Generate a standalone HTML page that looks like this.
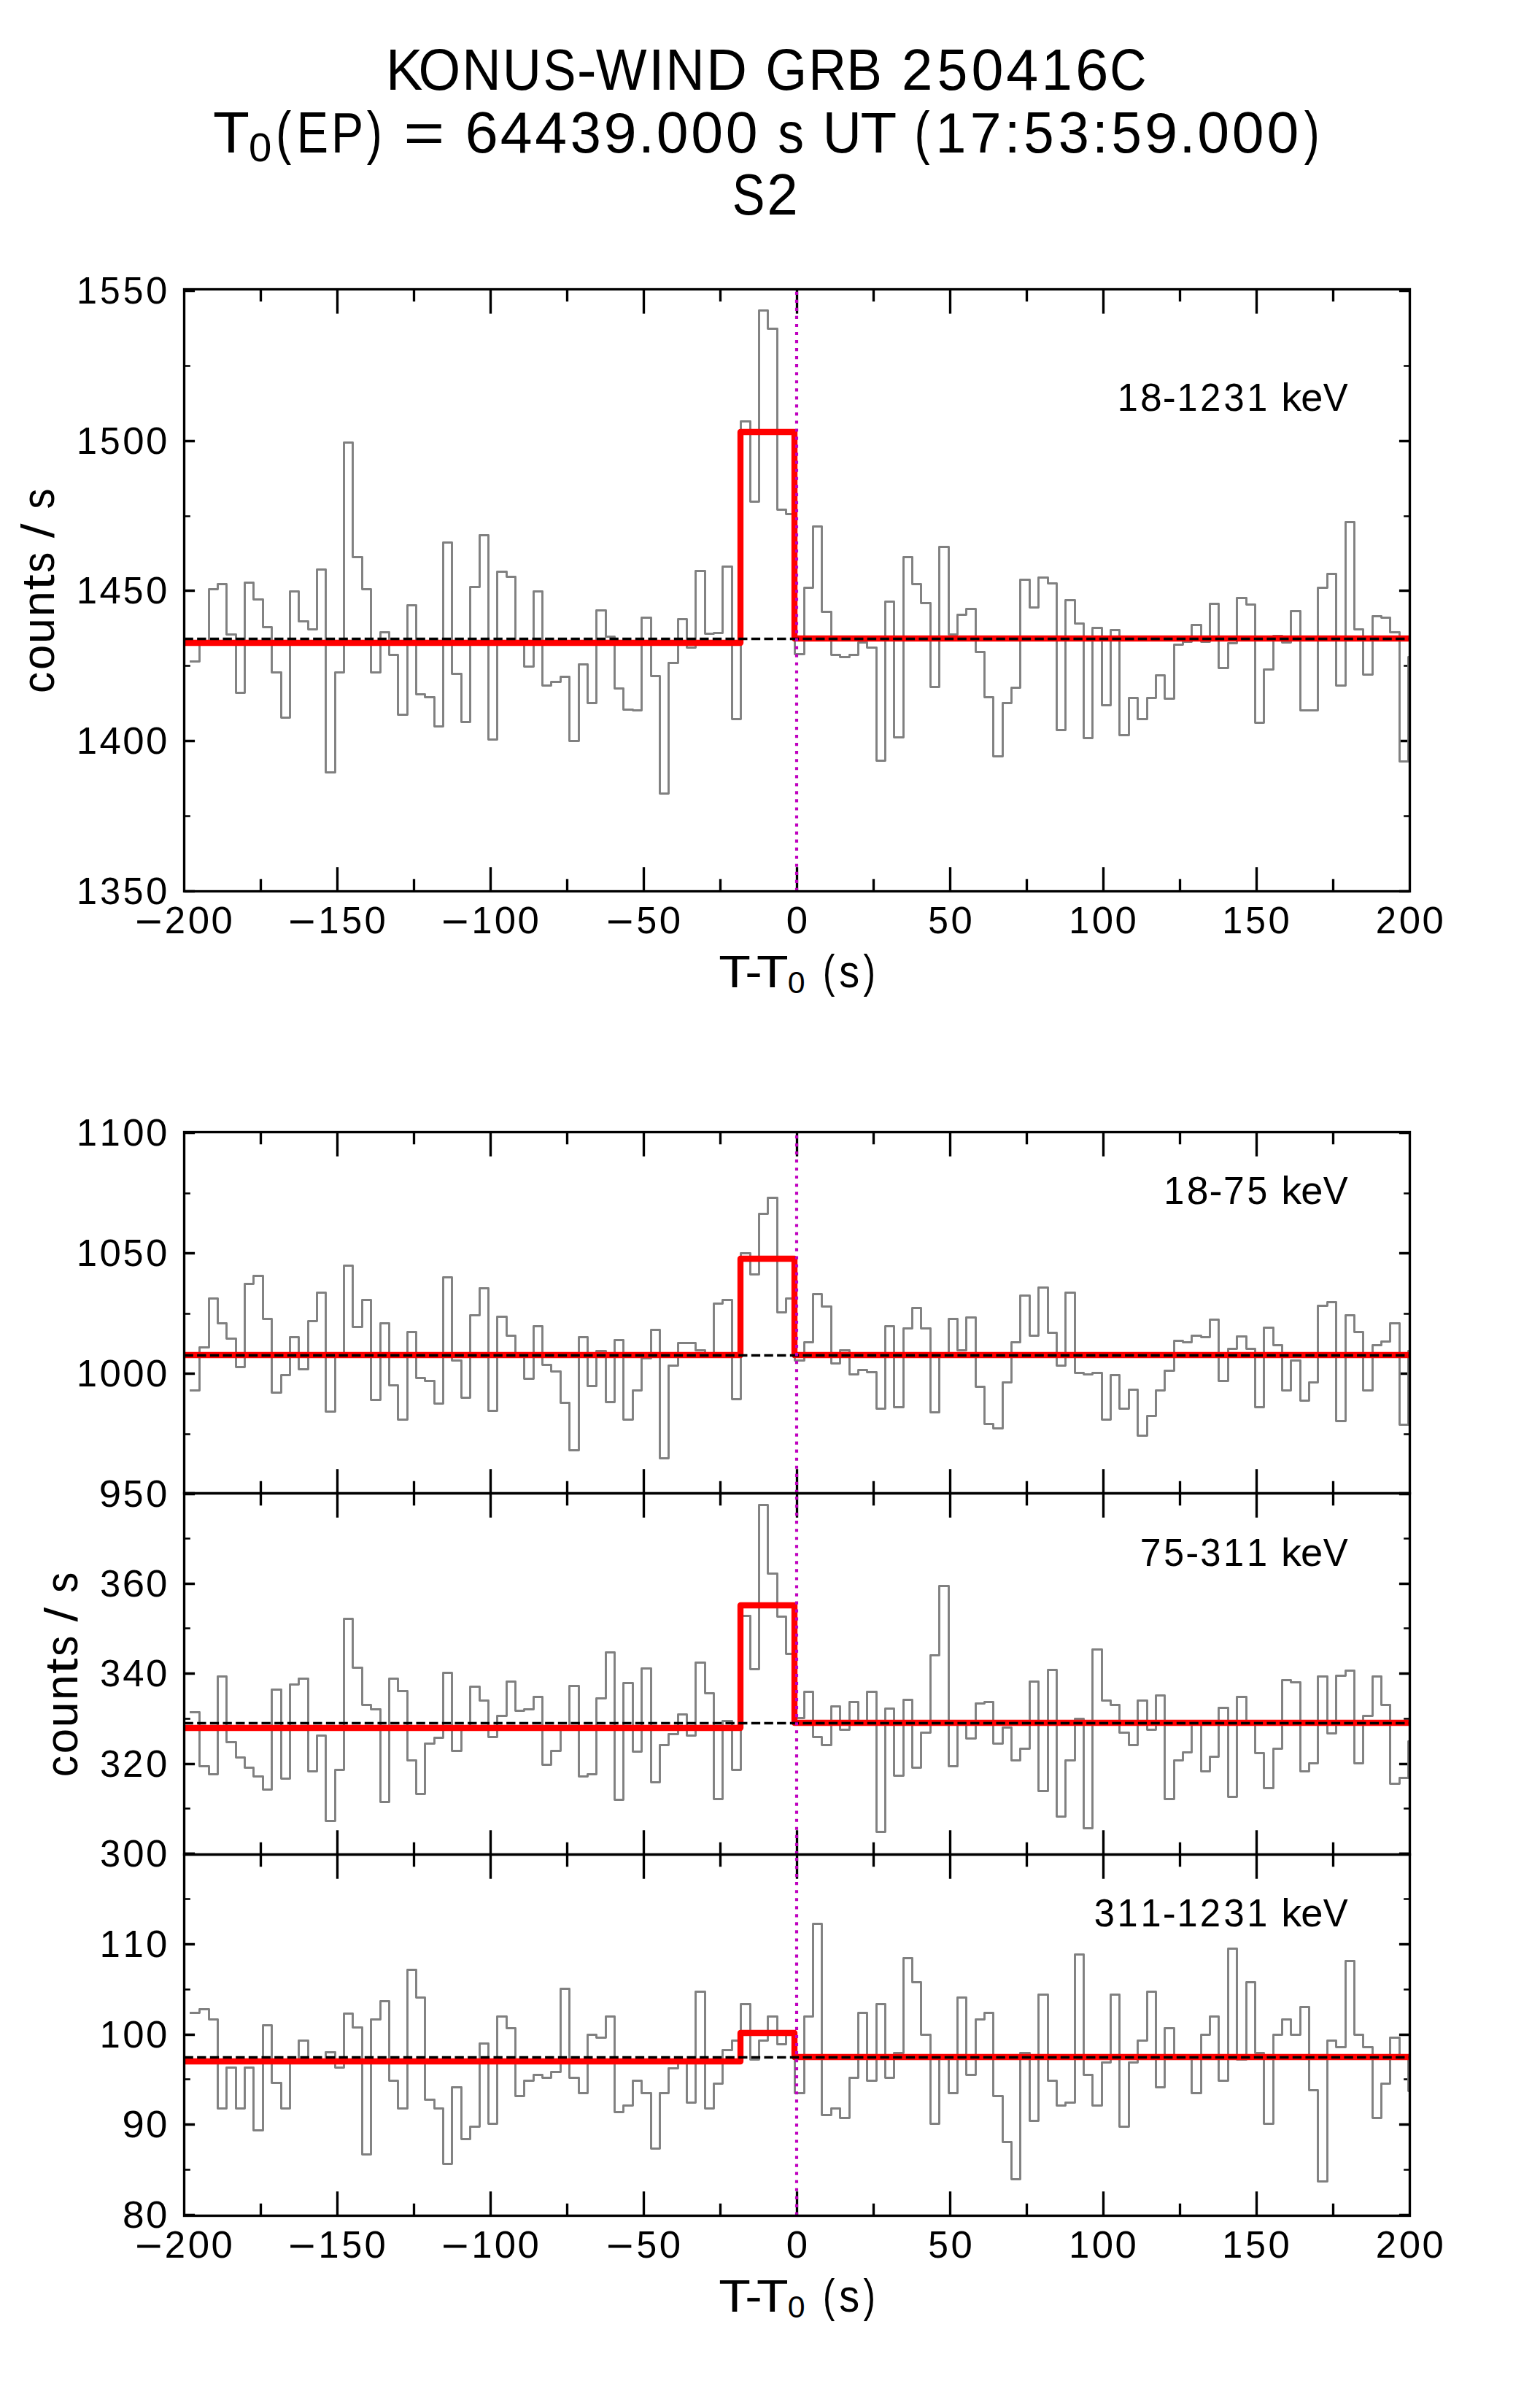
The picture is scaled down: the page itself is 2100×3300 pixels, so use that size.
<!DOCTYPE html><html><head><meta charset="utf-8"><style>html,body{margin:0;padding:0;background:#fff;}svg{display:block} text{font-family:"Liberation Sans",sans-serif;fill:#000}</style></head><body>
<svg xmlns="http://www.w3.org/2000/svg" width="2100" height="3300" viewBox="0 0 2100 3300">
<rect width="2100" height="3300" fill="#fff"/>
<text font-size="79.72" transform="translate(528.89,122.75) scale(0.9491,1)">K</text>
<text font-size="79.72" transform="translate(573.54,122.75) scale(0.9304,1)">O</text>
<text font-size="79.72" transform="translate(633.18,122.75) scale(0.9296,1)">N</text>
<text font-size="79.72" transform="translate(688.85,122.75) scale(0.9249,1)">U</text>
<text font-size="79.72" transform="translate(744.84,122.75) scale(0.8390,1)">S</text>
<text font-size="79.72" transform="translate(790.63,122.75) scale(1.0145,1)">-</text>
<text font-size="79.72" transform="translate(816.76,122.75) scale(0.9279,1)">W</text>
<text font-size="79.72" transform="translate(888.82,122.75) scale(0.9953,1)">I</text>
<text font-size="79.72" transform="translate(912.19,122.75) scale(0.9296,1)">N</text>
<text font-size="79.72" transform="translate(968.03,122.75) scale(0.9737,1)">D</text>
<text font-size="79.72" transform="translate(1049.19,122.75) scale(0.9179,1)">G</text>
<text font-size="79.72" transform="translate(1108.28,122.75) scale(0.9001,1)">R</text>
<text font-size="79.72" transform="translate(1160.32,122.75) scale(0.9144,1)">B</text>
<text font-size="79.72" transform="translate(1235.92,122.75) scale(0.9563,1)">2</text>
<text font-size="79.72" transform="translate(1284.79,122.75) scale(0.9363,1)">5</text>
<text font-size="79.72" transform="translate(1331.59,122.75) scale(0.9921,1)">0</text>
<text font-size="79.72" transform="translate(1379.32,122.75) scale(0.9922,1)">4</text>
<text font-size="79.72" transform="translate(1427.69,122.75) scale(0.9475,1)">1</text>
<text font-size="79.72" transform="translate(1474.02,122.75) scale(1.0268,1)">6</text>
<text font-size="79.72" transform="translate(1521.35,122.75) scale(0.8736,1)">C</text>
<text font-size="78.78" transform="translate(291.96,209.30) scale(1.0372,1)">T</text>
<text font-size="56.40" transform="translate(340.90,221.30) scale(0.9978,1)">0</text>
<text font-size="78.78" transform="translate(378.18,209.30) scale(0.8018,1)">(</text>
<text font-size="78.78" transform="translate(406.85,209.30) scale(0.8220,1)">E</text>
<text font-size="78.78" transform="translate(453.95,209.30) scale(0.8389,1)">P</text>
<text font-size="78.78" transform="translate(502.71,209.30) scale(0.8018,1)">)</text>
<text font-size="78.78" transform="translate(553.22,209.30) scale(1.2221,1)">=</text>
<text font-size="78.78" transform="translate(637.44,209.30) scale(1.0348,1)">6</text>
<text font-size="78.78" transform="translate(685.75,209.30) scale(1.0000,1)">4</text>
<text font-size="78.78" transform="translate(733.29,209.30) scale(1.0000,1)">4</text>
<text font-size="78.78" transform="translate(781.80,209.30) scale(0.9602,1)">3</text>
<text font-size="78.78" transform="translate(827.42,209.30) scale(1.0327,1)">9</text>
<text font-size="78.78" transform="translate(874.67,209.30) scale(1.0263,1)">.</text>
<text font-size="78.78" transform="translate(899.67,209.30) scale(0.9998,1)">0</text>
<text font-size="78.78" transform="translate(947.21,209.30) scale(0.9998,1)">0</text>
<text font-size="78.78" transform="translate(994.75,209.30) scale(0.9998,1)">0</text>
<text font-size="78.78" transform="translate(1066.25,209.30) scale(0.9092,1)">s</text>
<text font-size="78.78" transform="translate(1127.70,209.30) scale(0.9322,1)">U</text>
<text font-size="78.78" transform="translate(1179.51,209.30) scale(1.0345,1)">T</text>
<text font-size="78.78" transform="translate(1253.46,209.30) scale(0.8018,1)">(</text>
<text font-size="78.78" transform="translate(1282.59,209.30) scale(0.9549,1)">1</text>
<text font-size="78.78" transform="translate(1329.83,209.30) scale(0.9780,1)">7</text>
<text font-size="78.78" transform="translate(1376.56,209.30) scale(1.0263,1)">:</text>
<text font-size="78.78" transform="translate(1403.15,209.30) scale(0.9436,1)">5</text>
<text font-size="78.78" transform="translate(1450.71,209.30) scale(0.9602,1)">3</text>
<text font-size="78.78" transform="translate(1496.82,209.30) scale(1.0263,1)">:</text>
<text font-size="78.78" transform="translate(1523.41,209.30) scale(0.9436,1)">5</text>
<text font-size="78.78" transform="translate(1569.05,209.30) scale(1.0327,1)">9</text>
<text font-size="78.78" transform="translate(1616.31,209.30) scale(1.0263,1)">.</text>
<text font-size="78.78" transform="translate(1641.30,209.30) scale(0.9998,1)">0</text>
<text font-size="78.78" transform="translate(1688.84,209.30) scale(0.9998,1)">0</text>
<text font-size="78.78" transform="translate(1736.38,209.30) scale(0.9998,1)">0</text>
<text font-size="78.78" transform="translate(1787.68,209.30) scale(0.8018,1)">)</text>
<text font-size="79.72" transform="translate(1003.81,293.90) scale(0.8404,1)">S</text>
<text font-size="79.72" transform="translate(1051.27,293.90) scale(0.9579,1)">2</text>
<clipPath id="c0"><rect x="252" y="396.0" width="1680" height="825.0"/></clipPath>
<clipPath id="c1"><rect x="252" y="1551.0" width="1680" height="495.0"/></clipPath>
<clipPath id="c2"><rect x="252" y="2046.0" width="1680" height="495.0"/></clipPath>
<clipPath id="c3"><rect x="252" y="2541.0" width="1680" height="495.0"/></clipPath>
<path d="M357.5,1221.5v-16.67M357.5,396.5v16.67M462.5,1221.5v-33.33M462.5,396.5v33.33M567.5,1221.5v-16.67M567.5,396.5v16.67M672.5,1221.5v-33.33M672.5,396.5v33.33M777.5,1221.5v-16.67M777.5,396.5v16.67M882.5,1221.5v-33.33M882.5,396.5v33.33M987.5,1221.5v-16.67M987.5,396.5v16.67M1092.5,1221.5v-33.33M1092.5,396.5v33.33M1197.5,1221.5v-16.67M1197.5,396.5v16.67M1302.5,1221.5v-33.33M1302.5,396.5v33.33M1407.5,1221.5v-16.67M1407.5,396.5v16.67M1512.5,1221.5v-33.33M1512.5,396.5v33.33M1617.5,1221.5v-16.67M1617.5,396.5v16.67M1722.5,1221.5v-33.33M1722.5,396.5v33.33M1827.5,1221.5v-16.67M1827.5,396.5v16.67" stroke="#000" stroke-width="3.333" fill="none"/>
<path d="M252.5,1221.5h14.58M1932.5,1221.5h-14.58M252.5,1015.5h14.58M1932.5,1015.5h-14.58M252.5,809.5h14.58M1932.5,809.5h-14.58M252.5,604.5h14.58M1932.5,604.5h-14.58M252.5,398.5h14.58M1932.5,398.5h-14.58" stroke="#000" stroke-width="3.333" fill="none"/>
<path d="M252.5,1118.5h8.33M1932.5,1118.5h-8.33M252.5,912.5h8.33M1932.5,912.5h-8.33M252.5,707.5h8.33M1932.5,707.5h-8.33M252.5,501.5h8.33M1932.5,501.5h-8.33" stroke="#000" stroke-width="2.5" fill="none"/>
<g clip-path="url(#c0)"><path d="M261.5,906.5 L273.5,906.5 L273.5,881.5 L286.5,881.5 L286.5,807.5 L298.5,807.5 L298.5,800.5 L310.5,800.5 L310.5,869.5 L323.5,869.5 L323.5,949.5 L335.5,949.5 L335.5,798.5 L347.5,798.5 L347.5,821.5 L360.5,821.5 L360.5,859.5 L372.5,859.5 L372.5,921.5 L385.5,921.5 L385.5,983.5 L397.5,983.5 L397.5,810.5 L409.5,810.5 L409.5,851.5 L422.5,851.5 L422.5,862.5 L434.5,862.5 L434.5,780.5 L446.5,780.5 L446.5,1058.5 L459.5,1058.5 L459.5,921.5 L471.5,921.5 L471.5,606.5 L483.5,606.5 L483.5,763.5 L496.5,763.5 L496.5,807.5 L508.5,807.5 L508.5,921.5 L521.5,921.5 L521.5,866.5 L533.5,866.5 L533.5,897.5 L545.5,897.5 L545.5,979.5 L558.5,979.5 L558.5,829.5 L570.5,829.5 L570.5,951.5 L582.5,951.5 L582.5,955.5 L595.5,955.5 L595.5,995.5 L607.5,995.5 L607.5,743.5 L619.5,743.5 L619.5,923.5 L632.5,923.5 L632.5,989.5 L644.5,989.5 L644.5,804.5 L657.5,804.5 L657.5,733.5 L669.5,733.5 L669.5,1013.5 L681.5,1013.5 L681.5,783.5 L694.5,783.5 L694.5,790.5 L706.5,790.5 L706.5,881.5 L718.5,881.5 L718.5,913.5 L731.5,913.5 L731.5,810.5 L743.5,810.5 L743.5,939.5 L755.5,939.5 L755.5,934.5 L768.5,934.5 L768.5,927.5 L780.5,927.5 L780.5,1015.5 L793.5,1015.5 L793.5,910.5 L805.5,910.5 L805.5,963.5 L817.5,963.5 L817.5,836.5 L830.5,836.5 L830.5,872.5 L842.5,872.5 L842.5,943.5 L854.5,943.5 L854.5,972.5 L867.5,972.5 L867.5,973.5 L879.5,973.5 L879.5,846.5 L892.5,846.5 L892.5,926.5 L904.5,926.5 L904.5,1087.5 L916.5,1087.5 L916.5,908.5 L929.5,908.5 L929.5,848.5 L941.5,848.5 L941.5,887.5 L953.5,887.5 L953.5,782.5 L966.5,782.5 L966.5,868.5 L978.5,868.5 L978.5,867.5 L990.5,867.5 L990.5,776.5 L1003.5,776.5 L1003.5,985.5 L1015.5,985.5 L1015.5,577.5 L1028.5,577.5 L1028.5,687.5 L1040.5,687.5 L1040.5,425.5 L1052.5,425.5 L1052.5,450.5 L1065.5,450.5 L1065.5,698.5 L1077.5,698.5 L1077.5,704.5 L1089.5,704.5 L1089.5,896.5 L1102.5,896.5 L1102.5,805.5 L1114.5,805.5 L1114.5,721.5 L1126.5,721.5 L1126.5,838.5 L1139.5,838.5 L1139.5,897.5 L1151.5,897.5 L1151.5,900.5 L1164.5,900.5 L1164.5,897.5 L1176.5,897.5 L1176.5,880.5 L1188.5,880.5 L1188.5,887.5 L1201.5,887.5 L1201.5,1042.5 L1213.5,1042.5 L1213.5,824.5 L1225.5,824.5 L1225.5,1010.5 L1238.5,1010.5 L1238.5,763.5 L1250.5,763.5 L1250.5,800.5 L1262.5,800.5 L1262.5,826.5 L1275.5,826.5 L1275.5,941.5 L1287.5,941.5 L1287.5,749.5 L1300.5,749.5 L1300.5,869.5 L1312.5,869.5 L1312.5,842.5 L1324.5,842.5 L1324.5,834.5 L1337.5,834.5 L1337.5,893.5 L1349.5,893.5 L1349.5,955.5 L1361.5,955.5 L1361.5,1036.5 L1374.5,1036.5 L1374.5,963.5 L1386.5,963.5 L1386.5,942.5 L1398.5,942.5 L1398.5,794.5 L1411.5,794.5 L1411.5,832.5 L1423.5,832.5 L1423.5,791.5 L1436.5,791.5 L1436.5,799.5 L1448.5,799.5 L1448.5,1000.5 L1460.5,1000.5 L1460.5,822.5 L1473.5,822.5 L1473.5,854.5 L1485.5,854.5 L1485.5,1011.5 L1497.5,1011.5 L1497.5,860.5 L1510.5,860.5 L1510.5,966.5 L1522.5,966.5 L1522.5,863.5 L1534.5,863.5 L1534.5,1007.5 L1547.5,1007.5 L1547.5,956.5 L1559.5,956.5 L1559.5,985.5 L1572.5,985.5 L1572.5,956.5 L1584.5,956.5 L1584.5,925.5 L1596.5,925.5 L1596.5,957.5 L1609.5,957.5 L1609.5,883.5 L1621.5,883.5 L1621.5,879.5 L1633.5,879.5 L1633.5,856.5 L1646.5,856.5 L1646.5,879.5 L1658.5,879.5 L1658.5,827.5 L1670.5,827.5 L1670.5,915.5 L1683.5,915.5 L1683.5,881.5 L1695.5,881.5 L1695.5,819.5 L1708.5,819.5 L1708.5,828.5 L1720.5,828.5 L1720.5,990.5 L1732.5,990.5 L1732.5,917.5 L1745.5,917.5 L1745.5,871.5 L1757.5,871.5 L1757.5,880.5 L1769.5,880.5 L1769.5,837.5 L1782.5,837.5 L1782.5,973.5 L1794.5,973.5 L1794.5,973.5 L1806.5,973.5 L1806.5,805.5 L1819.5,805.5 L1819.5,786.5 L1831.5,786.5 L1831.5,939.5 L1844.5,939.5 L1844.5,715.5 L1856.5,715.5 L1856.5,862.5 L1868.5,862.5 L1868.5,924.5 L1881.5,924.5 L1881.5,844.5 L1893.5,844.5 L1893.5,846.5 L1905.5,846.5 L1905.5,866.5 L1918.5,866.5 L1918.5,1043.5 L1930.5,1043.5 L1930.5,900.5 L1943.5,900.5" fill="none" stroke="#808080" stroke-width="2.917" stroke-linejoin="round" stroke-linecap="square"/><path d="M210,881 L1015,881 L1015,592 L1089,592 L1089,875 L1974,875" fill="none" stroke="#ff0000" stroke-width="8.333" stroke-linejoin="round" stroke-linecap="square"/><path d="M252.5,875.5 H1932.5" stroke="#000" stroke-width="3.333" stroke-dasharray="12.333,5.333" fill="none"/><path d="M1092,1221V396" stroke="#bf00bf" stroke-width="4.167" stroke-dasharray="4.167,6.875" fill="none"/></g>
<rect x="252.5" y="396.5" width="1680" height="825.0" fill="none" stroke="#000" stroke-width="3.333"/>
<path d="M357.5,2046.5v-16.67M357.5,1551.5v16.67M462.5,2046.5v-33.33M462.5,1551.5v33.33M567.5,2046.5v-16.67M567.5,1551.5v16.67M672.5,2046.5v-33.33M672.5,1551.5v33.33M777.5,2046.5v-16.67M777.5,1551.5v16.67M882.5,2046.5v-33.33M882.5,1551.5v33.33M987.5,2046.5v-16.67M987.5,1551.5v16.67M1092.5,2046.5v-33.33M1092.5,1551.5v33.33M1197.5,2046.5v-16.67M1197.5,1551.5v16.67M1302.5,2046.5v-33.33M1302.5,1551.5v33.33M1407.5,2046.5v-16.67M1407.5,1551.5v16.67M1512.5,2046.5v-33.33M1512.5,1551.5v33.33M1617.5,2046.5v-16.67M1617.5,1551.5v16.67M1722.5,2046.5v-33.33M1722.5,1551.5v33.33M1827.5,2046.5v-16.67M1827.5,1551.5v16.67" stroke="#000" stroke-width="3.333" fill="none"/>
<path d="M252.5,2047.5h14.58M1932.5,2047.5h-14.58M252.5,1882.5h14.58M1932.5,1882.5h-14.58M252.5,1717.5h14.58M1932.5,1717.5h-14.58M252.5,1552.5h14.58M1932.5,1552.5h-14.58" stroke="#000" stroke-width="3.333" fill="none"/>
<path d="M252.5,1965.5h8.33M1932.5,1965.5h-8.33M252.5,1800.5h8.33M1932.5,1800.5h-8.33M252.5,1635.5h8.33M1932.5,1635.5h-8.33" stroke="#000" stroke-width="2.5" fill="none"/>
<g clip-path="url(#c1)"><path d="M261.5,1905.5 L273.5,1905.5 L273.5,1846.5 L286.5,1846.5 L286.5,1779.5 L298.5,1779.5 L298.5,1813.5 L310.5,1813.5 L310.5,1834.5 L323.5,1834.5 L323.5,1873.5 L335.5,1873.5 L335.5,1759.5 L347.5,1759.5 L347.5,1748.5 L360.5,1748.5 L360.5,1807.5 L372.5,1807.5 L372.5,1908.5 L385.5,1908.5 L385.5,1884.5 L397.5,1884.5 L397.5,1832.5 L409.5,1832.5 L409.5,1876.5 L422.5,1876.5 L422.5,1810.5 L434.5,1810.5 L434.5,1771.5 L446.5,1771.5 L446.5,1934.5 L459.5,1934.5 L459.5,1856.5 L471.5,1856.5 L471.5,1734.5 L483.5,1734.5 L483.5,1818.5 L496.5,1818.5 L496.5,1781.5 L508.5,1781.5 L508.5,1918.5 L521.5,1918.5 L521.5,1813.5 L533.5,1813.5 L533.5,1898.5 L545.5,1898.5 L545.5,1945.5 L558.5,1945.5 L558.5,1825.5 L570.5,1825.5 L570.5,1888.5 L582.5,1888.5 L582.5,1892.5 L595.5,1892.5 L595.5,1923.5 L607.5,1923.5 L607.5,1750.5 L619.5,1750.5 L619.5,1864.5 L632.5,1864.5 L632.5,1915.5 L644.5,1915.5 L644.5,1802.5 L657.5,1802.5 L657.5,1765.5 L669.5,1765.5 L669.5,1933.5 L681.5,1933.5 L681.5,1804.5 L694.5,1804.5 L694.5,1830.5 L706.5,1830.5 L706.5,1856.5 L718.5,1856.5 L718.5,1889.5 L731.5,1889.5 L731.5,1817.5 L743.5,1817.5 L743.5,1870.5 L755.5,1870.5 L755.5,1879.5 L768.5,1879.5 L768.5,1922.5 L780.5,1922.5 L780.5,1987.5 L793.5,1987.5 L793.5,1832.5 L805.5,1832.5 L805.5,1899.5 L817.5,1899.5 L817.5,1851.5 L830.5,1851.5 L830.5,1921.5 L842.5,1921.5 L842.5,1836.5 L854.5,1836.5 L854.5,1945.5 L867.5,1945.5 L867.5,1905.5 L879.5,1905.5 L879.5,1861.5 L892.5,1861.5 L892.5,1822.5 L904.5,1822.5 L904.5,1998.5 L916.5,1998.5 L916.5,1871.5 L929.5,1871.5 L929.5,1840.5 L941.5,1840.5 L941.5,1840.5 L953.5,1840.5 L953.5,1850.5 L966.5,1850.5 L966.5,1856.5 L978.5,1856.5 L978.5,1786.5 L990.5,1786.5 L990.5,1781.5 L1003.5,1781.5 L1003.5,1917.5 L1015.5,1917.5 L1015.5,1717.5 L1028.5,1717.5 L1028.5,1746.5 L1040.5,1746.5 L1040.5,1663.5 L1052.5,1663.5 L1052.5,1641.5 L1065.5,1641.5 L1065.5,1798.5 L1077.5,1798.5 L1077.5,1779.5 L1089.5,1779.5 L1089.5,1864.5 L1102.5,1864.5 L1102.5,1839.5 L1114.5,1839.5 L1114.5,1773.5 L1126.5,1773.5 L1126.5,1790.5 L1139.5,1790.5 L1139.5,1868.5 L1151.5,1868.5 L1151.5,1850.5 L1164.5,1850.5 L1164.5,1883.5 L1176.5,1883.5 L1176.5,1877.5 L1188.5,1877.5 L1188.5,1880.5 L1201.5,1880.5 L1201.5,1930.5 L1213.5,1930.5 L1213.5,1817.5 L1225.5,1817.5 L1225.5,1928.5 L1238.5,1928.5 L1238.5,1820.5 L1250.5,1820.5 L1250.5,1792.5 L1262.5,1792.5 L1262.5,1820.5 L1275.5,1820.5 L1275.5,1935.5 L1287.5,1935.5 L1287.5,1856.5 L1300.5,1856.5 L1300.5,1807.5 L1312.5,1807.5 L1312.5,1850.5 L1324.5,1850.5 L1324.5,1805.5 L1337.5,1805.5 L1337.5,1900.5 L1349.5,1900.5 L1349.5,1951.5 L1361.5,1951.5 L1361.5,1957.5 L1374.5,1957.5 L1374.5,1894.5 L1386.5,1894.5 L1386.5,1839.5 L1398.5,1839.5 L1398.5,1775.5 L1411.5,1775.5 L1411.5,1830.5 L1423.5,1830.5 L1423.5,1764.5 L1436.5,1764.5 L1436.5,1826.5 L1448.5,1826.5 L1448.5,1871.5 L1460.5,1871.5 L1460.5,1771.5 L1473.5,1771.5 L1473.5,1881.5 L1485.5,1881.5 L1485.5,1883.5 L1497.5,1883.5 L1497.5,1881.5 L1510.5,1881.5 L1510.5,1945.5 L1522.5,1945.5 L1522.5,1884.5 L1534.5,1884.5 L1534.5,1930.5 L1547.5,1930.5 L1547.5,1904.5 L1559.5,1904.5 L1559.5,1967.5 L1572.5,1967.5 L1572.5,1940.5 L1584.5,1940.5 L1584.5,1905.5 L1596.5,1905.5 L1596.5,1878.5 L1609.5,1878.5 L1609.5,1837.5 L1621.5,1837.5 L1621.5,1839.5 L1633.5,1839.5 L1633.5,1830.5 L1646.5,1830.5 L1646.5,1832.5 L1658.5,1832.5 L1658.5,1808.5 L1670.5,1808.5 L1670.5,1892.5 L1683.5,1892.5 L1683.5,1848.5 L1695.5,1848.5 L1695.5,1831.5 L1708.5,1831.5 L1708.5,1848.5 L1720.5,1848.5 L1720.5,1928.5 L1732.5,1928.5 L1732.5,1819.5 L1745.5,1819.5 L1745.5,1843.5 L1757.5,1843.5 L1757.5,1905.5 L1769.5,1905.5 L1769.5,1864.5 L1782.5,1864.5 L1782.5,1919.5 L1794.5,1919.5 L1794.5,1894.5 L1806.5,1894.5 L1806.5,1789.5 L1819.5,1789.5 L1819.5,1784.5 L1831.5,1784.5 L1831.5,1947.5 L1844.5,1947.5 L1844.5,1802.5 L1856.5,1802.5 L1856.5,1825.5 L1868.5,1825.5 L1868.5,1905.5 L1881.5,1905.5 L1881.5,1843.5 L1893.5,1843.5 L1893.5,1838.5 L1905.5,1838.5 L1905.5,1813.5 L1918.5,1813.5 L1918.5,1952.5 L1930.5,1952.5 L1930.5,1851.5 L1943.5,1851.5" fill="none" stroke="#808080" stroke-width="2.917" stroke-linejoin="round" stroke-linecap="square"/><path d="M210,1857 L1015,1857 L1015,1725 L1089,1725 L1089,1857 L1974,1857" fill="none" stroke="#ff0000" stroke-width="8.333" stroke-linejoin="round" stroke-linecap="square"/><path d="M252.5,1857.5 H1932.5" stroke="#000" stroke-width="3.333" stroke-dasharray="12.333,5.333" fill="none"/><path d="M1092,2046V1551" stroke="#bf00bf" stroke-width="4.167" stroke-dasharray="4.167,6.875" fill="none"/></g>
<rect x="252.5" y="1551.5" width="1680" height="495.0" fill="none" stroke="#000" stroke-width="3.333"/>
<path d="M357.5,2541.5v-16.67M357.5,2046.5v16.67M462.5,2541.5v-33.33M462.5,2046.5v33.33M567.5,2541.5v-16.67M567.5,2046.5v16.67M672.5,2541.5v-33.33M672.5,2046.5v33.33M777.5,2541.5v-16.67M777.5,2046.5v16.67M882.5,2541.5v-33.33M882.5,2046.5v33.33M987.5,2541.5v-16.67M987.5,2046.5v16.67M1092.5,2541.5v-33.33M1092.5,2046.5v33.33M1197.5,2541.5v-16.67M1197.5,2046.5v16.67M1302.5,2541.5v-33.33M1302.5,2046.5v33.33M1407.5,2541.5v-16.67M1407.5,2046.5v16.67M1512.5,2541.5v-33.33M1512.5,2046.5v33.33M1617.5,2541.5v-16.67M1617.5,2046.5v16.67M1722.5,2541.5v-33.33M1722.5,2046.5v33.33M1827.5,2541.5v-16.67M1827.5,2046.5v16.67" stroke="#000" stroke-width="3.333" fill="none"/>
<path d="M252.5,2540.5h14.58M1932.5,2540.5h-14.58M252.5,2417.5h14.58M1932.5,2417.5h-14.58M252.5,2293.5h14.58M1932.5,2293.5h-14.58M252.5,2170.5h14.58M1932.5,2170.5h-14.58M252.5,2046.5h14.58M1932.5,2046.5h-14.58" stroke="#000" stroke-width="3.333" fill="none"/>
<path d="M252.5,2478.5h8.33M1932.5,2478.5h-8.33M252.5,2355.5h8.33M1932.5,2355.5h-8.33M252.5,2231.5h8.33M1932.5,2231.5h-8.33M252.5,2108.5h8.33M1932.5,2108.5h-8.33" stroke="#000" stroke-width="2.5" fill="none"/>
<g clip-path="url(#c2)"><path d="M261.5,2346.5 L273.5,2346.5 L273.5,2420.5 L286.5,2420.5 L286.5,2431.5 L298.5,2431.5 L298.5,2297.5 L310.5,2297.5 L310.5,2387.5 L323.5,2387.5 L323.5,2408.5 L335.5,2408.5 L335.5,2422.5 L347.5,2422.5 L347.5,2434.5 L360.5,2434.5 L360.5,2452.5 L372.5,2452.5 L372.5,2315.5 L385.5,2315.5 L385.5,2437.5 L397.5,2437.5 L397.5,2308.5 L409.5,2308.5 L409.5,2300.5 L422.5,2300.5 L422.5,2427.5 L434.5,2427.5 L434.5,2378.5 L446.5,2378.5 L446.5,2495.5 L459.5,2495.5 L459.5,2425.5 L471.5,2425.5 L471.5,2218.5 L483.5,2218.5 L483.5,2285.5 L496.5,2285.5 L496.5,2336.5 L508.5,2336.5 L508.5,2342.5 L521.5,2342.5 L521.5,2469.5 L533.5,2469.5 L533.5,2300.5 L545.5,2300.5 L545.5,2317.5 L558.5,2317.5 L558.5,2412.5 L570.5,2412.5 L570.5,2458.5 L582.5,2458.5 L582.5,2389.5 L595.5,2389.5 L595.5,2381.5 L607.5,2381.5 L607.5,2292.5 L619.5,2292.5 L619.5,2399.5 L632.5,2399.5 L632.5,2367.5 L644.5,2367.5 L644.5,2311.5 L657.5,2311.5 L657.5,2330.5 L669.5,2330.5 L669.5,2380.5 L681.5,2380.5 L681.5,2351.5 L694.5,2351.5 L694.5,2304.5 L706.5,2304.5 L706.5,2344.5 L718.5,2344.5 L718.5,2342.5 L731.5,2342.5 L731.5,2325.5 L743.5,2325.5 L743.5,2418.5 L755.5,2418.5 L755.5,2399.5 L768.5,2399.5 L768.5,2367.5 L780.5,2367.5 L780.5,2310.5 L793.5,2310.5 L793.5,2434.5 L805.5,2434.5 L805.5,2431.5 L817.5,2431.5 L817.5,2327.5 L830.5,2327.5 L830.5,2264.5 L842.5,2264.5 L842.5,2466.5 L854.5,2466.5 L854.5,2306.5 L867.5,2306.5 L867.5,2400.5 L879.5,2400.5 L879.5,2286.5 L892.5,2286.5 L892.5,2442.5 L904.5,2442.5 L904.5,2391.5 L916.5,2391.5 L916.5,2376.5 L929.5,2376.5 L929.5,2349.5 L941.5,2349.5 L941.5,2378.5 L953.5,2378.5 L953.5,2278.5 L966.5,2278.5 L966.5,2320.5 L978.5,2320.5 L978.5,2465.5 L990.5,2465.5 L990.5,2358.5 L1003.5,2358.5 L1003.5,2425.5 L1015.5,2425.5 L1015.5,2214.5 L1028.5,2214.5 L1028.5,2287.5 L1040.5,2287.5 L1040.5,2062.5 L1052.5,2062.5 L1052.5,2156.5 L1065.5,2156.5 L1065.5,2215.5 L1077.5,2215.5 L1077.5,2266.5 L1089.5,2266.5 L1089.5,2354.5 L1102.5,2354.5 L1102.5,2318.5 L1114.5,2318.5 L1114.5,2380.5 L1126.5,2380.5 L1126.5,2391.5 L1139.5,2391.5 L1139.5,2338.5 L1151.5,2338.5 L1151.5,2370.5 L1164.5,2370.5 L1164.5,2332.5 L1176.5,2332.5 L1176.5,2360.5 L1188.5,2360.5 L1188.5,2318.5 L1201.5,2318.5 L1201.5,2510.5 L1213.5,2510.5 L1213.5,2341.5 L1225.5,2341.5 L1225.5,2433.5 L1238.5,2433.5 L1238.5,2329.5 L1250.5,2329.5 L1250.5,2422.5 L1262.5,2422.5 L1262.5,2374.5 L1275.5,2374.5 L1275.5,2268.5 L1287.5,2268.5 L1287.5,2173.5 L1300.5,2173.5 L1300.5,2420.5 L1312.5,2420.5 L1312.5,2361.5 L1324.5,2361.5 L1324.5,2382.5 L1337.5,2382.5 L1337.5,2334.5 L1349.5,2334.5 L1349.5,2332.5 L1361.5,2332.5 L1361.5,2389.5 L1374.5,2389.5 L1374.5,2367.5 L1386.5,2367.5 L1386.5,2412.5 L1398.5,2412.5 L1398.5,2396.5 L1411.5,2396.5 L1411.5,2304.5 L1423.5,2304.5 L1423.5,2454.5 L1436.5,2454.5 L1436.5,2288.5 L1448.5,2288.5 L1448.5,2489.5 L1460.5,2489.5 L1460.5,2412.5 L1473.5,2412.5 L1473.5,2355.5 L1485.5,2355.5 L1485.5,2505.5 L1497.5,2505.5 L1497.5,2260.5 L1510.5,2260.5 L1510.5,2330.5 L1522.5,2330.5 L1522.5,2336.5 L1534.5,2336.5 L1534.5,2374.5 L1547.5,2374.5 L1547.5,2391.5 L1559.5,2391.5 L1559.5,2330.5 L1572.5,2330.5 L1572.5,2370.5 L1584.5,2370.5 L1584.5,2323.5 L1596.5,2323.5 L1596.5,2465.5 L1609.5,2465.5 L1609.5,2412.5 L1621.5,2412.5 L1621.5,2401.5 L1633.5,2401.5 L1633.5,2361.5 L1646.5,2361.5 L1646.5,2427.5 L1658.5,2427.5 L1658.5,2407.5 L1670.5,2407.5 L1670.5,2340.5 L1683.5,2340.5 L1683.5,2462.5 L1695.5,2462.5 L1695.5,2325.5 L1708.5,2325.5 L1708.5,2361.5 L1720.5,2361.5 L1720.5,2402.5 L1732.5,2402.5 L1732.5,2450.5 L1745.5,2450.5 L1745.5,2396.5 L1757.5,2396.5 L1757.5,2302.5 L1769.5,2302.5 L1769.5,2305.5 L1782.5,2305.5 L1782.5,2427.5 L1794.5,2427.5 L1794.5,2416.5 L1806.5,2416.5 L1806.5,2297.5 L1819.5,2297.5 L1819.5,2375.5 L1831.5,2375.5 L1831.5,2296.5 L1844.5,2296.5 L1844.5,2289.5 L1856.5,2289.5 L1856.5,2416.5 L1868.5,2416.5 L1868.5,2351.5 L1881.5,2351.5 L1881.5,2297.5 L1893.5,2297.5 L1893.5,2336.5 L1905.5,2336.5 L1905.5,2444.5 L1918.5,2444.5 L1918.5,2436.5 L1930.5,2436.5 L1930.5,2386.5 L1943.5,2386.5" fill="none" stroke="#808080" stroke-width="2.917" stroke-linejoin="round" stroke-linecap="square"/><path d="M210,2368 L1015,2368 L1015,2200 L1089,2200 L1089,2361 L1974,2361" fill="none" stroke="#ff0000" stroke-width="8.333" stroke-linejoin="round" stroke-linecap="square"/><path d="M252.5,2361.5 H1932.5" stroke="#000" stroke-width="3.333" stroke-dasharray="12.333,5.333" fill="none"/><path d="M1092,2541V2046" stroke="#bf00bf" stroke-width="4.167" stroke-dasharray="4.167,6.875" fill="none"/></g>
<rect x="252.5" y="2046.5" width="1680" height="495.0" fill="none" stroke="#000" stroke-width="3.333"/>
<path d="M357.5,3036.5v-16.67M357.5,2541.5v16.67M462.5,3036.5v-33.33M462.5,2541.5v33.33M567.5,3036.5v-16.67M567.5,2541.5v16.67M672.5,3036.5v-33.33M672.5,2541.5v33.33M777.5,3036.5v-16.67M777.5,2541.5v16.67M882.5,3036.5v-33.33M882.5,2541.5v33.33M987.5,3036.5v-16.67M987.5,2541.5v16.67M1092.5,3036.5v-33.33M1092.5,2541.5v33.33M1197.5,3036.5v-16.67M1197.5,2541.5v16.67M1302.5,3036.5v-33.33M1302.5,2541.5v33.33M1407.5,3036.5v-16.67M1407.5,2541.5v16.67M1512.5,3036.5v-33.33M1512.5,2541.5v33.33M1617.5,3036.5v-16.67M1617.5,2541.5v16.67M1722.5,3036.5v-33.33M1722.5,2541.5v33.33M1827.5,3036.5v-16.67M1827.5,2541.5v16.67" stroke="#000" stroke-width="3.333" fill="none"/>
<path d="M252.5,3035.5h14.58M1932.5,3035.5h-14.58M252.5,2911.5h14.58M1932.5,2911.5h-14.58M252.5,2788.5h14.58M1932.5,2788.5h-14.58M252.5,2664.5h14.58M1932.5,2664.5h-14.58M252.5,2540.5h14.58M1932.5,2540.5h-14.58" stroke="#000" stroke-width="3.333" fill="none"/>
<path d="M252.5,2973.5h8.33M1932.5,2973.5h-8.33M252.5,2849.5h8.33M1932.5,2849.5h-8.33M252.5,2726.5h8.33M1932.5,2726.5h-8.33M252.5,2602.5h8.33M1932.5,2602.5h-8.33" stroke="#000" stroke-width="2.5" fill="none"/>
<g clip-path="url(#c3)"><path d="M261.5,2758.5 L273.5,2758.5 L273.5,2753.5 L286.5,2753.5 L286.5,2767.5 L298.5,2767.5 L298.5,2889.5 L310.5,2889.5 L310.5,2833.5 L323.5,2833.5 L323.5,2889.5 L335.5,2889.5 L335.5,2833.5 L347.5,2833.5 L347.5,2919.5 L360.5,2919.5 L360.5,2775.5 L372.5,2775.5 L372.5,2854.5 L385.5,2854.5 L385.5,2889.5 L397.5,2889.5 L397.5,2825.5 L409.5,2825.5 L409.5,2796.5 L422.5,2796.5 L422.5,2825.5 L434.5,2825.5 L434.5,2825.5 L446.5,2825.5 L446.5,2812.5 L459.5,2812.5 L459.5,2833.5 L471.5,2833.5 L471.5,2759.5 L483.5,2759.5 L483.5,2778.5 L496.5,2778.5 L496.5,2952.5 L508.5,2952.5 L508.5,2767.5 L521.5,2767.5 L521.5,2742.5 L533.5,2742.5 L533.5,2851.5 L545.5,2851.5 L545.5,2889.5 L558.5,2889.5 L558.5,2699.5 L570.5,2699.5 L570.5,2737.5 L582.5,2737.5 L582.5,2877.5 L595.5,2877.5 L595.5,2889.5 L607.5,2889.5 L607.5,2965.5 L619.5,2965.5 L619.5,2860.5 L632.5,2860.5 L632.5,2931.5 L644.5,2931.5 L644.5,2914.5 L657.5,2914.5 L657.5,2800.5 L669.5,2800.5 L669.5,2910.5 L681.5,2910.5 L681.5,2763.5 L694.5,2763.5 L694.5,2779.5 L706.5,2779.5 L706.5,2872.5 L718.5,2872.5 L718.5,2851.5 L731.5,2851.5 L731.5,2843.5 L743.5,2843.5 L743.5,2847.5 L755.5,2847.5 L755.5,2839.5 L768.5,2839.5 L768.5,2725.5 L780.5,2725.5 L780.5,2847.5 L793.5,2847.5 L793.5,2868.5 L805.5,2868.5 L805.5,2788.5 L817.5,2788.5 L817.5,2792.5 L830.5,2792.5 L830.5,2763.5 L842.5,2763.5 L842.5,2894.5 L854.5,2894.5 L854.5,2885.5 L867.5,2885.5 L867.5,2851.5 L879.5,2851.5 L879.5,2868.5 L892.5,2868.5 L892.5,2944.5 L904.5,2944.5 L904.5,2868.5 L916.5,2868.5 L916.5,2834.5 L929.5,2834.5 L929.5,2825.5 L941.5,2825.5 L941.5,2881.5 L953.5,2881.5 L953.5,2729.5 L966.5,2729.5 L966.5,2889.5 L978.5,2889.5 L978.5,2855.5 L990.5,2855.5 L990.5,2809.5 L1003.5,2809.5 L1003.5,2796.5 L1015.5,2796.5 L1015.5,2746.5 L1028.5,2746.5 L1028.5,2822.5 L1040.5,2822.5 L1040.5,2796.5 L1052.5,2796.5 L1052.5,2763.5 L1065.5,2763.5 L1065.5,2801.5 L1077.5,2801.5 L1077.5,2786.5 L1089.5,2786.5 L1089.5,2868.5 L1102.5,2868.5 L1102.5,2763.5 L1114.5,2763.5 L1114.5,2636.5 L1126.5,2636.5 L1126.5,2898.5 L1139.5,2898.5 L1139.5,2889.5 L1151.5,2889.5 L1151.5,2902.5 L1164.5,2902.5 L1164.5,2847.5 L1176.5,2847.5 L1176.5,2758.5 L1188.5,2758.5 L1188.5,2851.5 L1201.5,2851.5 L1201.5,2746.5 L1213.5,2746.5 L1213.5,2847.5 L1225.5,2847.5 L1225.5,2813.5 L1238.5,2813.5 L1238.5,2683.5 L1250.5,2683.5 L1250.5,2716.5 L1262.5,2716.5 L1262.5,2788.5 L1275.5,2788.5 L1275.5,2910.5 L1287.5,2910.5 L1287.5,2819.5 L1300.5,2819.5 L1300.5,2868.5 L1312.5,2868.5 L1312.5,2737.5 L1324.5,2737.5 L1324.5,2843.5 L1337.5,2843.5 L1337.5,2767.5 L1349.5,2767.5 L1349.5,2758.5 L1361.5,2758.5 L1361.5,2872.5 L1374.5,2872.5 L1374.5,2935.5 L1386.5,2935.5 L1386.5,2986.5 L1398.5,2986.5 L1398.5,2813.5 L1411.5,2813.5 L1411.5,2906.5 L1423.5,2906.5 L1423.5,2733.5 L1436.5,2733.5 L1436.5,2851.5 L1448.5,2851.5 L1448.5,2885.5 L1460.5,2885.5 L1460.5,2881.5 L1473.5,2881.5 L1473.5,2678.5 L1485.5,2678.5 L1485.5,2843.5 L1497.5,2843.5 L1497.5,2885.5 L1510.5,2885.5 L1510.5,2826.5 L1522.5,2826.5 L1522.5,2733.5 L1534.5,2733.5 L1534.5,2914.5 L1547.5,2914.5 L1547.5,2826.5 L1559.5,2826.5 L1559.5,2796.5 L1572.5,2796.5 L1572.5,2729.5 L1584.5,2729.5 L1584.5,2860.5 L1596.5,2860.5 L1596.5,2779.5 L1609.5,2779.5 L1609.5,2819.5 L1621.5,2819.5 L1621.5,2819.5 L1633.5,2819.5 L1633.5,2868.5 L1646.5,2868.5 L1646.5,2788.5 L1658.5,2788.5 L1658.5,2763.5 L1670.5,2763.5 L1670.5,2851.5 L1683.5,2851.5 L1683.5,2670.5 L1695.5,2670.5 L1695.5,2822.5 L1708.5,2822.5 L1708.5,2716.5 L1720.5,2716.5 L1720.5,2813.5 L1732.5,2813.5 L1732.5,2910.5 L1745.5,2910.5 L1745.5,2788.5 L1757.5,2788.5 L1757.5,2767.5 L1769.5,2767.5 L1769.5,2788.5 L1782.5,2788.5 L1782.5,2750.5 L1794.5,2750.5 L1794.5,2864.5 L1806.5,2864.5 L1806.5,2989.5 L1819.5,2989.5 L1819.5,2796.5 L1831.5,2796.5 L1831.5,2805.5 L1844.5,2805.5 L1844.5,2687.5 L1856.5,2687.5 L1856.5,2788.5 L1868.5,2788.5 L1868.5,2805.5 L1881.5,2805.5 L1881.5,2902.5 L1893.5,2902.5 L1893.5,2855.5 L1905.5,2855.5 L1905.5,2792.5 L1918.5,2792.5 L1918.5,2819.5 L1930.5,2819.5 L1930.5,2865.5 L1943.5,2865.5" fill="none" stroke="#808080" stroke-width="2.917" stroke-linejoin="round" stroke-linecap="square"/><path d="M210,2825 L1015,2825 L1015,2786 L1089,2786 L1089,2819 L1974,2819" fill="none" stroke="#ff0000" stroke-width="8.333" stroke-linejoin="round" stroke-linecap="square"/><path d="M252.5,2819.5 H1932.5" stroke="#000" stroke-width="3.333" stroke-dasharray="12.333,5.333" fill="none"/><path d="M1092,3036V2541" stroke="#bf00bf" stroke-width="4.167" stroke-dasharray="4.167,6.875" fill="none"/></g>
<rect x="252.5" y="2541.5" width="1680" height="495.0" fill="none" stroke="#000" stroke-width="3.333"/>
<text font-size="52.33" transform="translate(105.03,1238.90) scale(0.9620,1)">1</text>
<text font-size="52.33" transform="translate(137.07,1238.90) scale(0.9674,1)">3</text>
<text font-size="52.33" transform="translate(168.86,1238.90) scale(0.9506,1)">5</text>
<text font-size="52.33" transform="translate(200.05,1238.90) scale(1.0073,1)">0</text>
<text font-size="52.33" transform="translate(105.03,1032.90) scale(0.9620,1)">1</text>
<text font-size="52.33" transform="translate(136.42,1032.90) scale(1.0074,1)">4</text>
<text font-size="52.33" transform="translate(168.23,1032.90) scale(1.0073,1)">0</text>
<text font-size="52.33" transform="translate(200.05,1032.90) scale(1.0073,1)">0</text>
<text font-size="52.33" transform="translate(105.03,826.90) scale(0.9620,1)">1</text>
<text font-size="52.33" transform="translate(136.42,826.90) scale(1.0074,1)">4</text>
<text font-size="52.33" transform="translate(168.86,826.90) scale(0.9506,1)">5</text>
<text font-size="52.33" transform="translate(200.05,826.90) scale(1.0073,1)">0</text>
<text font-size="52.33" transform="translate(105.03,621.90) scale(0.9620,1)">1</text>
<text font-size="52.33" transform="translate(137.05,621.90) scale(0.9506,1)">5</text>
<text font-size="52.33" transform="translate(168.23,621.90) scale(1.0073,1)">0</text>
<text font-size="52.33" transform="translate(200.05,621.90) scale(1.0073,1)">0</text>
<text font-size="52.33" transform="translate(105.03,415.90) scale(0.9620,1)">1</text>
<text font-size="52.33" transform="translate(137.05,415.90) scale(0.9506,1)">5</text>
<text font-size="52.33" transform="translate(168.86,415.90) scale(0.9506,1)">5</text>
<text font-size="52.33" transform="translate(200.05,415.90) scale(1.0073,1)">0</text>
<text font-size="52.33" transform="translate(135.78,2064.90) scale(1.0404,1)">9</text>
<text font-size="52.33" transform="translate(168.86,2064.90) scale(0.9506,1)">5</text>
<text font-size="52.33" transform="translate(200.05,2064.90) scale(1.0073,1)">0</text>
<text font-size="52.33" transform="translate(105.03,1899.90) scale(0.9620,1)">1</text>
<text font-size="52.33" transform="translate(136.42,1899.90) scale(1.0073,1)">0</text>
<text font-size="52.33" transform="translate(168.23,1899.90) scale(1.0073,1)">0</text>
<text font-size="52.33" transform="translate(200.05,1899.90) scale(1.0073,1)">0</text>
<text font-size="52.33" transform="translate(105.03,1734.90) scale(0.9620,1)">1</text>
<text font-size="52.33" transform="translate(136.42,1734.90) scale(1.0073,1)">0</text>
<text font-size="52.33" transform="translate(168.86,1734.90) scale(0.9506,1)">5</text>
<text font-size="52.33" transform="translate(200.05,1734.90) scale(1.0073,1)">0</text>
<text font-size="52.33" transform="translate(105.03,1569.90) scale(0.9620,1)">1</text>
<text font-size="52.33" transform="translate(136.84,1569.90) scale(0.9620,1)">1</text>
<text font-size="52.33" transform="translate(168.23,1569.90) scale(1.0073,1)">0</text>
<text font-size="52.33" transform="translate(200.05,1569.90) scale(1.0073,1)">0</text>
<text font-size="52.33" transform="translate(137.07,2557.90) scale(0.9674,1)">3</text>
<text font-size="52.33" transform="translate(168.23,2557.90) scale(1.0073,1)">0</text>
<text font-size="52.33" transform="translate(200.05,2557.90) scale(1.0073,1)">0</text>
<text font-size="52.33" transform="translate(137.07,2434.90) scale(0.9674,1)">3</text>
<text font-size="52.33" transform="translate(168.10,2434.90) scale(0.9709,1)">2</text>
<text font-size="52.33" transform="translate(200.05,2434.90) scale(1.0073,1)">0</text>
<text font-size="52.33" transform="translate(137.07,2310.90) scale(0.9674,1)">3</text>
<text font-size="52.33" transform="translate(168.23,2310.90) scale(1.0074,1)">4</text>
<text font-size="52.33" transform="translate(200.05,2310.90) scale(1.0073,1)">0</text>
<text font-size="52.33" transform="translate(137.07,2187.90) scale(0.9674,1)">3</text>
<text font-size="52.33" transform="translate(167.72,2187.90) scale(1.0425,1)">6</text>
<text font-size="52.33" transform="translate(200.05,2187.90) scale(1.0073,1)">0</text>
<text font-size="52.33" transform="translate(168.08,3052.90) scale(1.0182,1)">8</text>
<text font-size="52.33" transform="translate(200.05,3052.90) scale(1.0073,1)">0</text>
<text font-size="52.33" transform="translate(167.59,2928.90) scale(1.0404,1)">9</text>
<text font-size="52.33" transform="translate(200.05,2928.90) scale(1.0073,1)">0</text>
<text font-size="52.33" transform="translate(136.84,2805.90) scale(0.9620,1)">1</text>
<text font-size="52.33" transform="translate(168.23,2805.90) scale(1.0073,1)">0</text>
<text font-size="52.33" transform="translate(200.05,2805.90) scale(1.0073,1)">0</text>
<text font-size="52.33" transform="translate(136.84,2681.90) scale(0.9620,1)">1</text>
<text font-size="52.33" transform="translate(168.66,2681.90) scale(0.9620,1)">1</text>
<text font-size="52.33" transform="translate(200.05,2681.90) scale(1.0073,1)">0</text>
<rect x="188.14" y="1261.37" width="31.30" height="4.12"/>
<text font-size="52.62" transform="translate(225.85,1279.00) scale(0.9656,1)">2</text>
<text font-size="52.62" transform="translate(257.79,1279.00) scale(1.0017,1)">0</text>
<text font-size="52.62" transform="translate(289.60,1279.00) scale(1.0017,1)">0</text>
<rect x="398.14" y="1261.37" width="31.30" height="4.12"/>
<text font-size="52.62" transform="translate(436.40,1279.00) scale(0.9567,1)">1</text>
<text font-size="52.62" transform="translate(468.42,1279.00) scale(0.9454,1)">5</text>
<text font-size="52.62" transform="translate(499.60,1279.00) scale(1.0017,1)">0</text>
<rect x="608.14" y="1261.37" width="31.30" height="4.12"/>
<text font-size="52.62" transform="translate(646.40,1279.00) scale(0.9567,1)">1</text>
<text font-size="52.62" transform="translate(677.79,1279.00) scale(1.0017,1)">0</text>
<text font-size="52.62" transform="translate(709.60,1279.00) scale(1.0017,1)">0</text>
<rect x="834.05" y="1261.37" width="31.30" height="4.12"/>
<text font-size="52.62" transform="translate(872.51,1279.00) scale(0.9454,1)">5</text>
<text font-size="52.62" transform="translate(903.70,1279.00) scale(1.0017,1)">0</text>
<text font-size="52.62" transform="translate(1077.84,1279.00) scale(1.0017,1)">0</text>
<text font-size="52.62" transform="translate(1272.29,1279.00) scale(0.9454,1)">5</text>
<text font-size="52.62" transform="translate(1303.47,1279.00) scale(1.0017,1)">0</text>
<text font-size="52.62" transform="translate(1465.35,1279.00) scale(0.9567,1)">1</text>
<text font-size="52.62" transform="translate(1496.74,1279.00) scale(1.0017,1)">0</text>
<text font-size="52.62" transform="translate(1528.56,1279.00) scale(1.0017,1)">0</text>
<text font-size="52.62" transform="translate(1675.35,1279.00) scale(0.9567,1)">1</text>
<text font-size="52.62" transform="translate(1707.37,1279.00) scale(0.9454,1)">5</text>
<text font-size="52.62" transform="translate(1738.56,1279.00) scale(1.0017,1)">0</text>
<text font-size="52.62" transform="translate(1885.72,1279.00) scale(0.9656,1)">2</text>
<text font-size="52.62" transform="translate(1917.66,1279.00) scale(1.0017,1)">0</text>
<text font-size="52.62" transform="translate(1949.47,1279.00) scale(1.0017,1)">0</text>
<text font-size="62.35" transform="translate(985.30,1353.00) scale(1.1455,1)">T</text>
<text font-size="62.35" transform="translate(1021.15,1353.00) scale(1.1322,1)">-</text>
<text font-size="62.35" transform="translate(1036.91,1353.00) scale(1.1455,1)">T</text>
<text font-size="42.59" transform="translate(1079.82,1361.20) scale(1.0070,1)">0</text>
<text font-size="62.35" transform="translate(1127.95,1353.00) scale(0.7898,1)">(</text>
<text font-size="62.35" transform="translate(1150.33,1353.00) scale(0.8956,1)">s</text>
<text font-size="62.35" transform="translate(1183.45,1353.00) scale(0.7898,1)">)</text>
<rect x="188.14" y="3076.37" width="31.30" height="4.12"/>
<text font-size="52.62" transform="translate(225.85,3094.00) scale(0.9656,1)">2</text>
<text font-size="52.62" transform="translate(257.79,3094.00) scale(1.0017,1)">0</text>
<text font-size="52.62" transform="translate(289.60,3094.00) scale(1.0017,1)">0</text>
<rect x="398.14" y="3076.37" width="31.30" height="4.12"/>
<text font-size="52.62" transform="translate(436.40,3094.00) scale(0.9567,1)">1</text>
<text font-size="52.62" transform="translate(468.42,3094.00) scale(0.9454,1)">5</text>
<text font-size="52.62" transform="translate(499.60,3094.00) scale(1.0017,1)">0</text>
<rect x="608.14" y="3076.37" width="31.30" height="4.12"/>
<text font-size="52.62" transform="translate(646.40,3094.00) scale(0.9567,1)">1</text>
<text font-size="52.62" transform="translate(677.79,3094.00) scale(1.0017,1)">0</text>
<text font-size="52.62" transform="translate(709.60,3094.00) scale(1.0017,1)">0</text>
<rect x="834.05" y="3076.37" width="31.30" height="4.12"/>
<text font-size="52.62" transform="translate(872.51,3094.00) scale(0.9454,1)">5</text>
<text font-size="52.62" transform="translate(903.70,3094.00) scale(1.0017,1)">0</text>
<text font-size="52.62" transform="translate(1077.84,3094.00) scale(1.0017,1)">0</text>
<text font-size="52.62" transform="translate(1272.29,3094.00) scale(0.9454,1)">5</text>
<text font-size="52.62" transform="translate(1303.47,3094.00) scale(1.0017,1)">0</text>
<text font-size="52.62" transform="translate(1465.35,3094.00) scale(0.9567,1)">1</text>
<text font-size="52.62" transform="translate(1496.74,3094.00) scale(1.0017,1)">0</text>
<text font-size="52.62" transform="translate(1528.56,3094.00) scale(1.0017,1)">0</text>
<text font-size="52.62" transform="translate(1675.35,3094.00) scale(0.9567,1)">1</text>
<text font-size="52.62" transform="translate(1707.37,3094.00) scale(0.9454,1)">5</text>
<text font-size="52.62" transform="translate(1738.56,3094.00) scale(1.0017,1)">0</text>
<text font-size="52.62" transform="translate(1885.72,3094.00) scale(0.9656,1)">2</text>
<text font-size="52.62" transform="translate(1917.66,3094.00) scale(1.0017,1)">0</text>
<text font-size="52.62" transform="translate(1949.47,3094.00) scale(1.0017,1)">0</text>
<text font-size="62.35" transform="translate(985.30,3168.00) scale(1.1455,1)">T</text>
<text font-size="62.35" transform="translate(1021.15,3168.00) scale(1.1322,1)">-</text>
<text font-size="62.35" transform="translate(1036.91,3168.00) scale(1.1455,1)">T</text>
<text font-size="42.59" transform="translate(1079.82,3176.20) scale(1.0070,1)">0</text>
<text font-size="62.35" transform="translate(1127.95,3168.00) scale(0.7898,1)">(</text>
<text font-size="62.35" transform="translate(1150.33,3168.00) scale(0.8956,1)">s</text>
<text font-size="62.35" transform="translate(1183.45,3168.00) scale(0.7898,1)">)</text>
<text font-size="62.35" transform="translate(74.30,949.88) rotate(-90) scale(0.9376,1)">c</text>
<text font-size="62.35" transform="translate(74.30,917.97) rotate(-90) scale(0.9933,1)">o</text>
<text font-size="62.35" transform="translate(74.30,882.06) rotate(-90) scale(1.0074,1)">u</text>
<text font-size="62.35" transform="translate(74.30,844.89) rotate(-90) scale(1.0074,1)">n</text>
<text font-size="62.35" transform="translate(74.30,808.69) rotate(-90) scale(1.2488,1)">t</text>
<text font-size="62.35" transform="translate(74.30,784.63) rotate(-90) scale(0.8957,1)">s</text>
<text font-size="62.35" transform="translate(74.30,737.36) rotate(-90) scale(1.1331,1)">/</text>
<text font-size="62.35" transform="translate(74.30,697.61) rotate(-90) scale(0.8957,1)">s</text>
<text font-size="62.35" transform="translate(106.40,2435.19) rotate(-90) scale(0.9382,1)">c</text>
<text font-size="62.35" transform="translate(106.40,2403.25) rotate(-90) scale(0.9941,1)">o</text>
<text font-size="62.35" transform="translate(106.40,2367.32) rotate(-90) scale(1.0082,1)">u</text>
<text font-size="62.35" transform="translate(106.40,2330.11) rotate(-90) scale(1.0082,1)">n</text>
<text font-size="62.35" transform="translate(106.40,2293.89) rotate(-90) scale(1.2497,1)">t</text>
<text font-size="62.35" transform="translate(106.40,2269.81) rotate(-90) scale(0.8963,1)">s</text>
<text font-size="62.35" transform="translate(106.40,2222.51) rotate(-90) scale(1.1339,1)">/</text>
<text font-size="62.35" transform="translate(106.40,2182.73) rotate(-90) scale(0.8963,1)">s</text>
<text font-size="53.05" transform="translate(1531.65,562.60) scale(0.9518,1)">1</text>
<text font-size="53.05" transform="translate(1562.98,562.60) scale(1.0074,1)">8</text>
<text font-size="53.05" transform="translate(1593.86,562.60) scale(1.0191,1)">-</text>
<text font-size="53.05" transform="translate(1613.57,562.60) scale(0.9518,1)">1</text>
<text font-size="53.05" transform="translate(1644.93,562.60) scale(0.9606,1)">2</text>
<text font-size="53.05" transform="translate(1677.62,562.60) scale(0.9571,1)">3</text>
<text font-size="53.05" transform="translate(1709.30,562.60) scale(0.9518,1)">1</text>
<text font-size="53.05" transform="translate(1756.27,562.60) scale(1.0570,1)">k</text>
<text font-size="53.05" transform="translate(1783.21,562.60) scale(1.0211,1)">e</text>
<text font-size="53.05" transform="translate(1813.77,562.60) scale(0.9594,1)">V</text>
<text font-size="53.05" transform="translate(1595.35,1649.90) scale(0.9523,1)">1</text>
<text font-size="53.05" transform="translate(1626.69,1649.90) scale(1.0079,1)">8</text>
<text font-size="53.05" transform="translate(1657.59,1649.90) scale(1.0196,1)">-</text>
<text font-size="53.05" transform="translate(1677.11,1649.90) scale(0.9753,1)">7</text>
<text font-size="53.05" transform="translate(1709.44,1649.90) scale(0.9410,1)">5</text>
<text font-size="53.05" transform="translate(1756.22,1649.90) scale(1.0576,1)">k</text>
<text font-size="53.05" transform="translate(1783.18,1649.90) scale(1.0216,1)">e</text>
<text font-size="53.05" transform="translate(1813.76,1649.90) scale(0.9599,1)">V</text>
<text font-size="53.05" transform="translate(1562.84,2145.60) scale(0.9766,1)">7</text>
<text font-size="53.05" transform="translate(1595.22,2145.60) scale(0.9422,1)">5</text>
<text font-size="53.05" transform="translate(1625.36,2145.60) scale(1.0210,1)">-</text>
<text font-size="53.05" transform="translate(1645.34,2145.60) scale(0.9588,1)">3</text>
<text font-size="53.05" transform="translate(1677.08,2145.60) scale(0.9536,1)">1</text>
<text font-size="53.05" transform="translate(1709.05,2145.60) scale(0.9536,1)">1</text>
<text font-size="53.05" transform="translate(1756.10,2145.60) scale(1.0590,1)">k</text>
<text font-size="53.05" transform="translate(1783.10,2145.60) scale(1.0230,1)">e</text>
<text font-size="53.05" transform="translate(1813.71,2145.60) scale(0.9612,1)">V</text>
<text font-size="53.05" transform="translate(1499.87,2640.10) scale(0.9573,1)">3</text>
<text font-size="53.05" transform="translate(1531.56,2640.10) scale(0.9521,1)">1</text>
<text font-size="53.05" transform="translate(1563.48,2640.10) scale(0.9521,1)">1</text>
<text font-size="53.05" transform="translate(1593.78,2640.10) scale(1.0194,1)">-</text>
<text font-size="53.05" transform="translate(1613.50,2640.10) scale(0.9521,1)">1</text>
<text font-size="53.05" transform="translate(1644.87,2640.10) scale(0.9609,1)">2</text>
<text font-size="53.05" transform="translate(1677.57,2640.10) scale(0.9573,1)">3</text>
<text font-size="53.05" transform="translate(1709.26,2640.10) scale(0.9521,1)">1</text>
<text font-size="53.05" transform="translate(1756.24,2640.10) scale(1.0574,1)">k</text>
<text font-size="53.05" transform="translate(1783.20,2640.10) scale(1.0214,1)">e</text>
<text font-size="53.05" transform="translate(1813.76,2640.10) scale(0.9597,1)">V</text>
</svg></body></html>
